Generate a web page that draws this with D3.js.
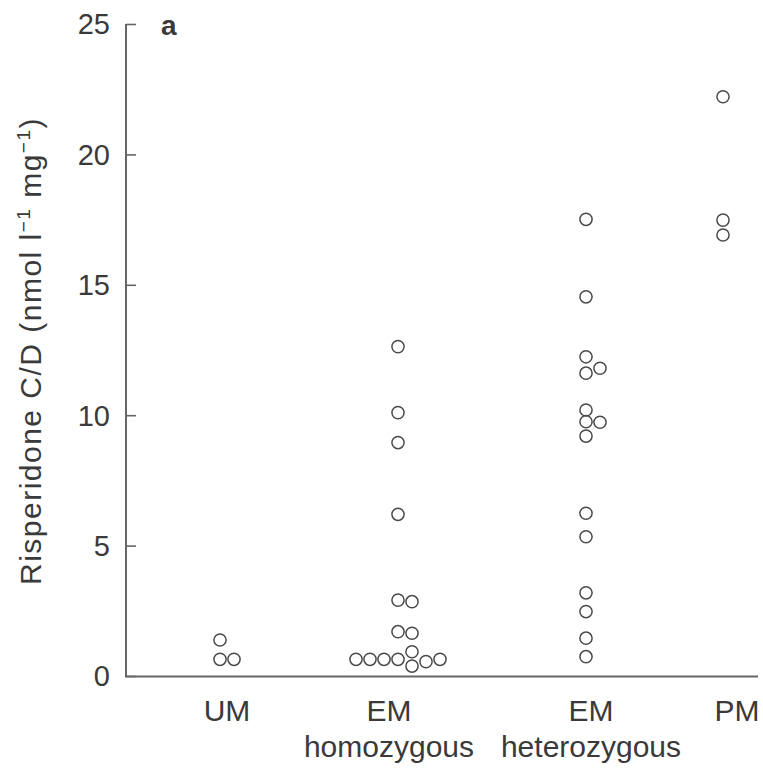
<!DOCTYPE html>
<html>
<head>
<meta charset="utf-8">
<script src="https://cdn.jsdelivr.net/npm/d3@7"></script>
<style>
  html, body { margin: 0; padding: 0; background: #fff; }
  svg text { font-family: "Liberation Sans", Arial, Helvetica, sans-serif; fill: #3a3a3a; }
</style>
</head>
<body>
<svg id="chart" width="763" height="769"></svg>
<script>
// ---- Data ----
const categories = ["UM", "EM hom", "EM het", "PM"];
const categoryLine1 = ["UM", "EM", "EM", "PM"];
const categoryLine2 = ["", "homozygous", "heterozygous", ""];

// Risperidone C/D per patient, grouped by genotype; 'col' = dot-plot column index (stacking)
const umValues   = [1.38, 0.64, 0.64];
const umCols     = [0, 0, 1];
const emHomValues = [12.63, 10.10, 8.95, 6.20, 2.91, 2.85, 1.70, 1.64, 0.64, 0.64, 0.64, 0.64, 0.93, 0.38, 0.55, 0.64];
const emHomCols   = [0, 0, 0, 0, 0, 1, 0, 1, 0, -1, -2, -3, 1, 1, 2, 3];
const emHetValues = [17.51, 14.54, 12.24, 11.61, 11.80, 10.20, 9.75, 9.20, 9.73, 6.24, 5.34, 3.19, 2.47, 1.45, 0.74];
const emHetCols   = [0, 0, 0, 0, 1, 0, 0, 0, 1, 0, 0, 0, 0, 0, 0];
const pmValues   = [22.21, 17.48, 16.91];
const pmCols     = [0, 0, 0];

const yTicks = [0, 5, 10, 15, 20, 25];

const groups = [
  { cat: "UM", values: umValues, cols: umCols },
  { cat: "EM hom", values: emHomValues, cols: emHomCols },
  { cat: "EM het", values: emHetValues, cols: emHetCols },
  { cat: "PM", values: pmValues, cols: pmCols }
];
const points = groups.flatMap(g => g.values.map((v, i) => ({ cat: g.cat, value: v, col: g.cols[i] })));

// ---- Layout ----
const svg = d3.select("#chart");
const axisX = 126, yTop = 24, yBottom = 676, xRight = 758;

const y = d3.scaleLinear().domain([0, 25]).range([yBottom, yTop]);
const xDots = d3.scaleOrdinal().domain(categories).range([220, 398, 586, 723]);
const xLabels = d3.scaleOrdinal().domain(categories).range([227, 389, 591, 737]);
const colStep = 14;

// Y axis (ticks pointing inward)
const yAxis = d3.axisRight(y).tickValues(yTicks).tickSize(10).tickFormat("");
const gy = svg.append("g").attr("transform", `translate(${axisX},0)`).call(yAxis);
gy.select(".domain").attr("stroke", "#666").attr("stroke-width", 2).attr("d", `M0,${yTop}V${yBottom}`);
gy.selectAll(".tick line").attr("stroke", "#666").attr("stroke-width", 1.6);

// tick labels
svg.append("g").selectAll("text").data(yTicks).join("text")
  .attr("x", 110).attr("y", d => y(d)).attr("dy", "0.36em")
  .attr("text-anchor", "end").attr("font-size", 29).text(d => d);

// X axis line
svg.append("line").attr("x1", axisX - 1).attr("x2", xRight)
  .attr("y1", yBottom + 0.5).attr("y2", yBottom + 0.5)
  .attr("stroke", "#666").attr("stroke-width", 2);

// category labels
svg.append("g").selectAll("text.l1").data(categories).join("text")
  .attr("class", "l1")
  .attr("x", d => xLabels(d)).attr("y", 721)
  .attr("text-anchor", "middle").attr("font-size", 30)
  .text((d, i) => categoryLine1[i]);
svg.append("g").selectAll("text.l2").data(categories).join("text")
  .attr("class", "l2")
  .attr("x", d => xLabels(d)).attr("y", 757)
  .attr("text-anchor", "middle").attr("font-size", 30)
  .text((d, i) => categoryLine2[i]);

// Y label
const yl = svg.append("text")
  .attr("transform", `translate(41,${(yTop + yBottom) / 2 + 1}) rotate(-90)`)
  .attr("text-anchor", "middle").attr("font-size", 30);
yl.append("tspan").text("Risperidone C/D (nmol l");
yl.append("tspan").attr("dy", -11).attr("font-size", 19).text("\u22121");
yl.append("tspan").attr("dy", 11).text(" mg");
yl.append("tspan").attr("dy", -11).attr("font-size", 19).text("\u22121");
yl.append("tspan").attr("dy", 11).text(")");
// stretch to match reference length
const targetLen = 468;
const curLen = yl.node().getComputedTextLength();
const nChars = yl.text().length;
yl.attr("letter-spacing", ((targetLen - curLen) / nChars).toFixed(2));

// panel letter
svg.append("text").attr("x", 161).attr("y", 35).attr("font-size", 28)
  .attr("font-weight", "bold").text("a");

// dots
svg.append("g").selectAll("circle").data(points).join("circle")
  .attr("cx", d => xDots(d.cat) + d.col * colStep)
  .attr("cy", d => y(d.value))
  .attr("r", 6.1)
  .attr("fill", "none")
  .attr("stroke", "#4a4a4a")
  .attr("stroke-width", 1.5);
</script>
</body>
</html>
